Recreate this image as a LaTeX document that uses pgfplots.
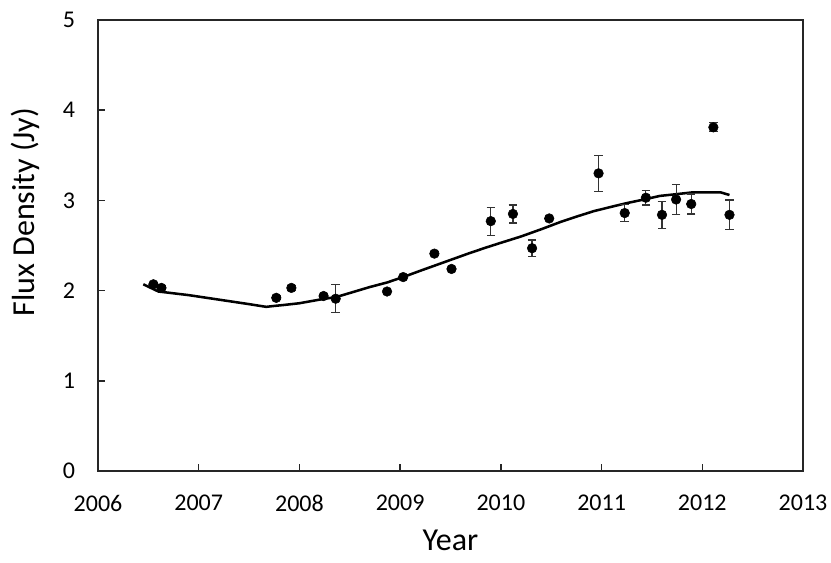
\documentclass[border=0pt]{standalone}
\usepackage{fontspec}
\setmainfont{Carlito}
\usepackage{pgfplots}
\pgfplotsset{compat=1.18}
\begin{document}
\begin{tikzpicture}
\path[use as bounding box] (-73.5pt,-68.25pt) rectangle (549.75pt,353.25pt);
\begin{axis}[
  at={(0,0)}, anchor=south west,
  scale only axis,
  width=528.75pt, height=338.25pt,
  xmin=2006, xmax=2013, ymin=0, ymax=5,
  xtick={2006,2007,2008,2009,2010,2011,2012,2013},
  ytick={0,1,2,3,4,5},
  xtick pos=lower, ytick pos=left,
  tick align=inside,
  major tick length=5.25pt,
  axis line style={line width=1.3pt, color=black!85},
  every tick/.style={line width=1.1pt, color=black!85},
  /pgf/number format/assume math mode=true,
  /pgf/number format/1000 sep={},
  ticklabel style={font=\fontsize{18}{21}\selectfont, inner sep=0pt},
  xticklabel style={anchor=north, yshift=-18pt},
  yticklabel style={anchor=east, xshift=-17pt},
  xlabel={Year},
  ylabel={Flux Density (Jy)},
  label style={font=\fontsize{24}{28}\selectfont, inner sep=0pt},
  xlabel style={at={(axis description cs:0.5,0)}, anchor=base, yshift=-59.25pt},
  ylabel style={at={(axis description cs:0,0.574)}, anchor=center, yshift=54.75pt},
  clip=false,
]
\addplot[black, line width=1.9pt, no marks] coordinates {
(2006.45,2.07) (2006.60,1.99) (2006.9,1.95) (2007.2,1.90) (2007.5,1.85) (2007.67,1.82)
(2007.75,1.83) (2007.84,1.84) (2008.0,1.86) (2008.2,1.90) (2008.37,1.93)
(2008.55,1.99) (2008.70,2.04) (2008.87,2.09) (2009.03,2.15) (2009.2,2.22)
(2009.35,2.28) (2009.5,2.34) (2009.7,2.42) (2009.86,2.48) (2010.0,2.53)
(2010.2,2.60) (2010.4,2.68) (2010.59,2.76) (2010.75,2.82) (2010.92,2.88)
(2011.1,2.93) (2011.25,2.97) (2011.42,3.01) (2011.58,3.05) (2011.75,3.07)
(2011.91,3.09) (2012.05,3.09) (2012.18,3.09) (2012.27,3.06)
};
\addplot[only marks, mark=*, mark size=3.6pt, black,
  error bars/.cd, y dir=both, y explicit,
  error bar style={line width=0.9pt, color=black!80},
  error mark options={rotate=90, mark size=3.2pt, line width=0.9pt, color=black!80}]
coordinates {
(2006.55,2.07) +- (0,0.02)
(2006.63,2.03) +- (0,0.02)
(2007.77,1.92) +- (0,0.02)
(2007.92,2.03) +- (0,0.03)
(2008.24,1.94) +- (0,0.02)
(2008.36,1.91) +- (0,0.155)
(2008.87,1.99) +- (0,0.02)
(2009.03,2.15) +- (0,0.02)
(2009.34,2.41) +- (0,0.02)
(2009.51,2.24) +- (0,0.02)
(2009.90,2.77) +- (0,0.155)
(2010.12,2.85) +- (0,0.10)
(2010.31,2.47) +- (0,0.09)
(2010.48,2.80) +- (0,0.02)
(2010.97,3.30) +- (0,0.20)
(2011.23,2.86) +- (0,0.095)
(2011.44,3.03) +- (0,0.08)
(2011.60,2.84) +- (0,0.15)
(2011.74,3.01) +- (0,0.165)
(2011.89,2.96) +- (0,0.11)
(2012.11,3.81) +- (0,0.05)
(2012.27,2.84) +- (0,0.165)
};
\end{axis}
\end{tikzpicture}
\end{document}
